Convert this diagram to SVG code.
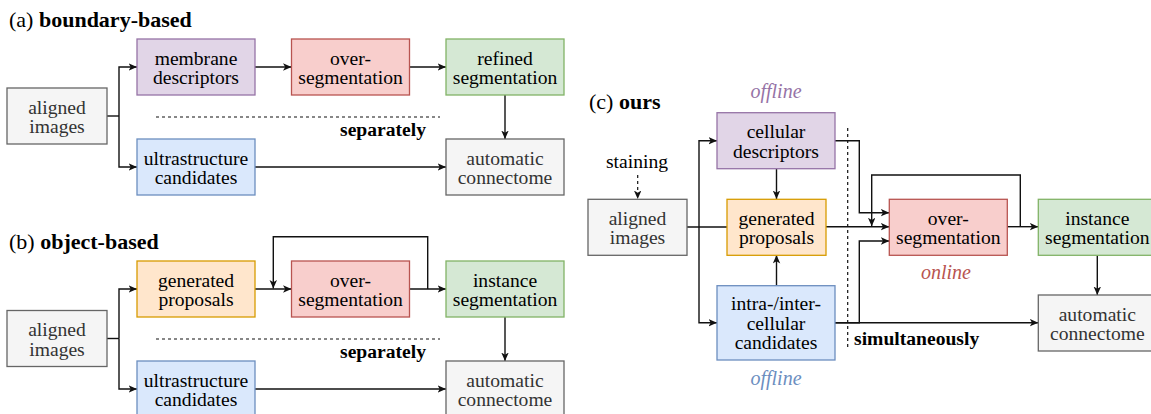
<svg xmlns="http://www.w3.org/2000/svg" width="1151" height="414" viewBox="0 0 1151 414" font-family="'Liberation Serif', 'Times New Roman', Times, 'DejaVu Serif', serif">
<style>
text{font-family:'Liberation Serif','Times New Roman',Times,'DejaVu Serif',serif;font-size:19.6px;fill:#000}
.t{font-size:22px}
.b{font-weight:bold}
.c{text-anchor:middle}
.g text{fill:#333333}
.it{font-style:italic;font-size:20px}
rect{stroke-width:1.3}
.pu rect{fill:#e1d5e7;stroke:#9673a6}
.re rect{fill:#f8cecc;stroke:#b85450}
.gr rect{fill:#d5e8d4;stroke:#82b366}
.bl rect{fill:#dae8fc;stroke:#6c8ebf}
.or rect{fill:#ffe6cc;stroke:#d79b00}
.g rect{fill:#f5f5f5;stroke:#666666}
.e path{fill:none;stroke:#111;stroke-width:1.4}
.e path.a{marker-end:url(#arr)}
.e path.d{stroke-dasharray:3 3;stroke-width:1.2}
</style>
<defs>
<marker id="arr" markerUnits="userSpaceOnUse" markerWidth="10" markerHeight="8" refX="8.5" refY="3.75" orient="auto">
<path d="M0,0 L8.5,3.75 L0,7.5 L2.2,3.75 Z" fill="#111"/>
</marker>
</defs>

<!-- titles -->
<text class="t" x="9" y="27">(a) <tspan class="b">boundary-based</tspan></text>
<text class="t" x="9" y="249">(b) <tspan class="b">object-based</tspan></text>
<text class="t" x="589" y="109">(c) <tspan class="b">ours</tspan></text>
<text class="b" x="426" y="136" text-anchor="end">separately</text>
<text class="b" x="426" y="358" text-anchor="end">separately</text>
<text class="b" x="854" y="345">simultaneously</text>
<text class="c" x="637" y="168">staining</text>
<text class="it c" x="776" y="98" style="fill:#9673a6">offline</text>
<text class="it c" x="776" y="385" style="fill:#6c8ebf">offline</text>
<text class="it c" x="946" y="279" style="fill:#b85450">online</text>

<!-- connectors -->
<g id="connectors" class="e">
<path class="d" d="M156,117 H440"/>
<path class="d" d="M156,339 H440"/>
<path class="d" d="M847.7,128 V347"/>
<path d="M107,116 H119"/>
<path class="a" d="M119,116 V67 H137"/>
<path class="a" d="M119,116 V167 H137"/>
<path class="a" d="M255,67 H291.5"/>
<path class="a" d="M409.5,67 H446"/>
<path class="a" d="M505,95 V139"/>
<path class="a" d="M255,167 H446"/>

<path d="M107,338.5 H119"/>
<path class="a" d="M119,338.5 V289 H137"/>
<path class="a" d="M119,338.5 V389 H137"/>
<path class="a" d="M255,289 H291.5"/>
<path class="a" d="M409.5,289 H446"/>
<path class="a" d="M427.7,289 V236.7 H273.3 V288.5"/>
<path class="a" d="M505,317 V361"/>
<path class="a" d="M255,389 H446"/>

<path class="d a" d="M637.7,175 V199"/>
<path d="M687,227 H727"/>
<path class="a" d="M699,227 V140.7 H717"/>
<path class="a" d="M699,227 V322.7 H717"/>
<path class="a" d="M776.5,169 V199"/>
<path class="a" d="M776.5,286 V255"/>
<path class="a" d="M835,140.7 H859.3 V212.7 H889.3"/>
<path class="a" d="M826,226.7 H889.3"/>
<path class="a" d="M835,322.7 H859.3 V241 H889.3"/>
<path class="a" d="M835,322.7 H1038.3"/>
<path class="a" d="M1007,226.7 H1038.3"/>
<path class="a" d="M1020.3,226.7 V175 H871.7 V226.2"/>
<path class="a" d="M1097.3,255 V295"/>
</g>

<!-- panel a -->
<g id="a-aligned" class="g"><rect x="7" y="88" width="100" height="56"/><text class="c" x="57" y="113.5">aligned</text><text class="c" x="57" y="133">images</text></g>
<g id="a-membrane" class="pu"><rect x="137" y="39" width="118" height="56"/><text class="c" x="196" y="64.5">membrane</text><text class="c" x="196" y="84">descriptors</text></g>
<g id="a-over" class="re"><rect x="291.5" y="39" width="118" height="56"/><text class="c" x="350.5" y="64.5">over-</text><text class="c" x="350.5" y="84">segmentation</text></g>
<g id="a-refined" class="gr"><rect x="446" y="39" width="118" height="56"/><text class="c" x="505" y="64.5">refined</text><text class="c" x="505" y="84">segmentation</text></g>
<g id="a-ultra" class="bl"><rect x="137" y="139" width="118" height="56"/><text class="c" x="196" y="164.5">ultrastructure</text><text class="c" x="196" y="184">candidates</text></g>
<g id="a-auto" class="g"><rect x="446" y="139" width="118" height="56"/><text class="c" x="505" y="164.5">automatic</text><text class="c" x="505" y="184">connectome</text></g>

<!-- panel b -->
<g id="b-aligned" class="g"><rect x="7" y="310.5" width="100" height="56"/><text class="c" x="57" y="336">aligned</text><text class="c" x="57" y="355.5">images</text></g>
<g id="b-generated" class="or"><rect x="137" y="261" width="118" height="56"/><text class="c" x="196" y="286.5">generated</text><text class="c" x="196" y="306">proposals</text></g>
<g id="b-over" class="re"><rect x="291.5" y="261" width="118" height="56"/><text class="c" x="350.5" y="286.5">over-</text><text class="c" x="350.5" y="306">segmentation</text></g>
<g id="b-instance" class="gr"><rect x="446" y="261" width="118" height="56"/><text class="c" x="505" y="286.5">instance</text><text class="c" x="505" y="306">segmentation</text></g>
<g id="b-ultra" class="bl"><rect x="137" y="361" width="118" height="56"/><text class="c" x="196" y="386.5">ultrastructure</text><text class="c" x="196" y="406">candidates</text></g>
<g id="b-auto" class="g"><rect x="446" y="361" width="118" height="56"/><text class="c" x="505" y="386.5">automatic</text><text class="c" x="505" y="406">connectome</text></g>

<!-- panel c -->
<g id="c-aligned" class="g"><rect x="588" y="199.3" width="99" height="56"/><text class="c" x="637.5" y="224.5">aligned</text><text class="c" x="637.5" y="244">images</text></g>
<g id="c-cellular" class="pu"><rect x="717" y="112.7" width="118" height="56"/><text class="c" x="776" y="138">cellular</text><text class="c" x="776" y="157.5">descriptors</text></g>
<g id="c-generated" class="or"><rect x="727" y="199.3" width="99" height="56"/><text class="c" x="776.5" y="224.5">generated</text><text class="c" x="776.5" y="244">proposals</text></g>
<g id="c-intra" class="bl"><rect x="717" y="285.7" width="118" height="74.3"/><text class="c" x="776" y="310.3">intra-/inter-</text><text class="c" x="776" y="329.8">cellular</text><text class="c" x="776" y="349.3">candidates</text></g>
<g id="c-over" class="re"><rect x="889.3" y="199.3" width="118" height="56"/><text class="c" x="948.3" y="224.5">over-</text><text class="c" x="948.3" y="244">segmentation</text></g>
<g id="c-instance" class="gr"><rect x="1038.3" y="199.3" width="118" height="56"/><text class="c" x="1097.3" y="224.5">instance</text><text class="c" x="1097.3" y="244">segmentation</text></g>
<g id="c-auto" class="g"><rect x="1038.3" y="295" width="118" height="56"/><text class="c" x="1097.3" y="320.5">automatic</text><text class="c" x="1097.3" y="340">connectome</text></g>
</svg>
